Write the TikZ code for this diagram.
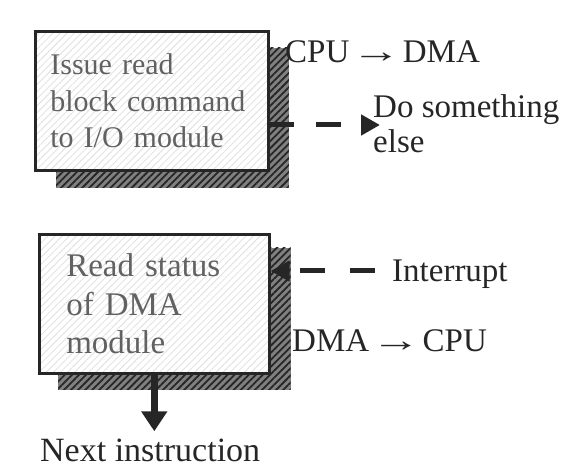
\documentclass[tikz,border=0pt]{standalone}
\usepackage{fontspec}
\usepackage{graphicx}
\setmainfont{Liberation Serif}
\newcommand{\lngarrow}{\hspace{2pt}\scalebox{1.5}[1]{→}\hspace{2pt}}
\usetikzlibrary{patterns.meta,calc,arrows.meta,backgrounds}
\begin{document}
\begin{tikzpicture}[x=1pt,y=1pt,
 boxnode/.style={draw=black!85,line width=2.6pt,preaction={fill=white},
   pattern={Lines[angle=45,distance=5pt,line width=0.8pt]},pattern color=black!12,
   align=left,anchor=north west,inner ysep=0pt,minimum height=139pt,text=black!62},
 shadowfill/.style={fill=black!50},
 shadowhatch/.style={pattern={Lines[angle=45,distance=5pt,line width=1.8pt]},pattern color=black!85},
 lbl/.style={text=black!85,font=\fontsize{33}{35}\selectfont,inner sep=0pt,align=left},
 dasharrow/.style={line width=5pt,draw=black!85,-{Triangle[length=19pt,width=20pt]}},
 solidarrow/.style={line width=7pt,draw=black!85,-{Triangle[length=20pt,width=25pt]}}
]
\useasboundingbox (0,0) rectangle (570,468);

% boxes
\node[boxnode,text width=203pt,inner xsep=15pt,font=\fontsize{30}{36.5}\selectfont]
  (b1) at (35,437) {Issue read\\block command\\to I/O module};
\node[boxnode,text width=176pt,inner xsep=27pt,font=\fontsize{33}{38.5}\selectfont]
  (b2) at (38,235) {Read status\\of DMA\\module};

\begin{scope}[on background layer]
  \fill[shadowfill] ($(b1.south west)+(21,-17)$) rectangle ($(b1.north east)+(20,-17)$);
  \fill[shadowhatch] ($(b1.south west)+(21,-17)$) rectangle ($(b1.north east)+(20,-17)$);
  \fill[shadowfill] ($(b2.south west)+(20,-15)$) rectangle ($(b2.north east)+(20,-15)$);
  \fill[shadowhatch] ($(b2.south west)+(20,-15)$) rectangle ($(b2.north east)+(20,-15)$);
\end{scope}

% labels
\node[lbl,anchor=base west] (c2d) at (285,405) {CPU\lngarrow DMA};
\node[lbl,anchor=base west] (dse) at (373,315) {Do something\\else};
\node[lbl,anchor=base west] (intr) at (392,186) {Interrupt};
\node[lbl,anchor=base west] (d2c) at (292,116) {DMA\lngarrow CPU};
\node[lbl,anchor=base west,font=\fontsize{34}{36}\selectfont] (nxt) at (40,6) {Next instruction};

% connectors
\coordinate (t1) at (380,343);
\draw[dasharrow,dash pattern=on 25pt off 22pt] (b1.east |- t1) -- (t1);
\coordinate (s2) at (390,197);
\draw[dasharrow,dash pattern=on 25pt off 25pt,dash phase=35pt] (s2) -- (b2.east |- s2);
\draw[solidarrow] (b2.south) -- ($(b2.south |- nxt.north)+(0,8)$);
\end{tikzpicture}
\end{document}
